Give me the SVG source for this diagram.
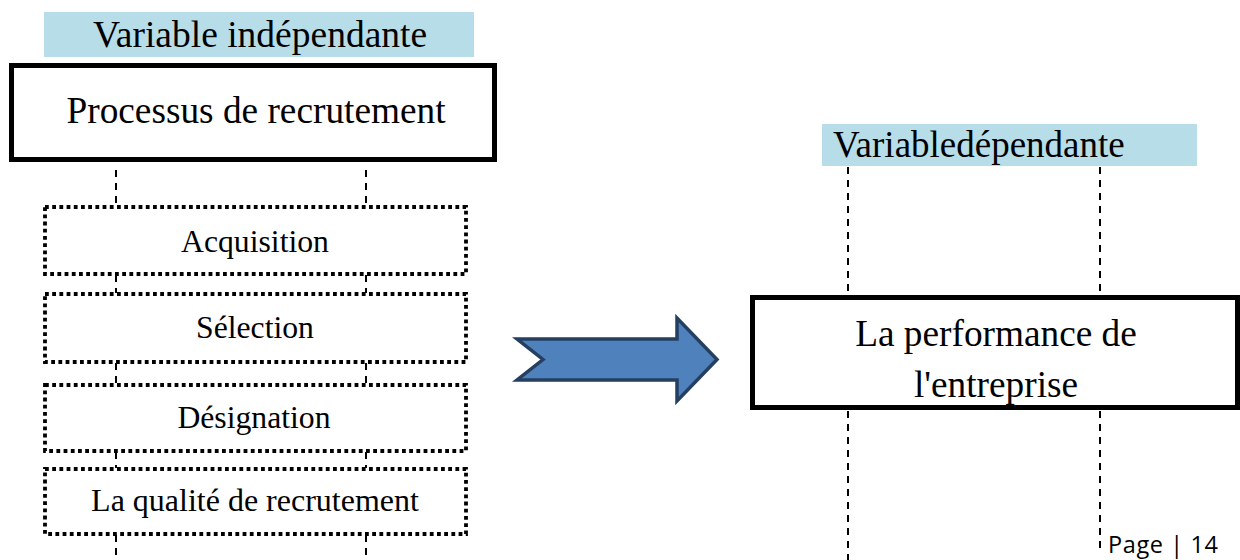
<svg xmlns="http://www.w3.org/2000/svg" width="1240" height="560" viewBox="0 0 1240 560">
<style>
.serif{font-family:"Liberation Serif","Times New Roman",serif;fill:#000;text-anchor:middle}
.lbl{fill:#B6DDE8}
.solid{fill:#fff;stroke:#000;stroke-width:5}
.dotted{fill:#fff;stroke:#000;stroke-width:3.8;stroke-dasharray:3.8 3.4}
.dash{stroke:#000;stroke-width:2;stroke-dasharray:7 6;fill:none}
</style>
<rect width="1240" height="560" fill="#fff"/>
<g id="connectors">
<path class="dash" d="M116 170V206M366 170V206M116 275V293M366 275V293M116 363V384M366 363V384M116 452V468M366 452V468M116 535V560M366 535V560"/>
<path class="dash" d="M848 167V295M1100 167V295M848 411V560M1100 411V553"/>
<path id="arrow" d="M517 339H677V318L717 359.5L677 401V380H517L543 359.5Z" fill="#4F81BD" stroke="#243F60" stroke-width="3.5" stroke-linejoin="miter"/>
</g>
<g id="label-independante">
<rect class="lbl" x="44" y="12" width="430" height="45"/>
<text class="serif" x="260" y="47" font-size="37.5">Variable indépendante</text>
</g>
<g id="node-processus">
<rect class="solid" x="11.5" y="65.5" width="483" height="94"/>
<text class="serif" x="256" y="123" font-size="37.3">Processus de recrutement</text>
</g>
<g id="node-acquisition">
<rect class="dotted" x="45" y="207" width="421" height="67"/>
<text class="serif" x="255" y="252" font-size="31.7">Acquisition</text>
</g>
<g id="node-selection">
<rect class="dotted" x="45" y="294" width="421" height="68"/>
<text class="serif" x="255" y="338" font-size="31.7">Sélection</text>
</g>
<g id="node-designation">
<rect class="dotted" x="45" y="385" width="421" height="66"/>
<text class="serif" x="254" y="428" font-size="31.7">Désignation</text>
</g>
<g id="node-qualite">
<rect class="dotted" x="45" y="469" width="421" height="65"/>
<text class="serif" x="255" y="511" font-size="32">La qualité de recrutement</text>
</g>
<g id="label-dependante">
<rect class="lbl" x="822" y="124" width="375" height="42"/>
<text class="serif" x="833" y="157" font-size="37" style="text-anchor:start">Variabledépendante</text>
</g>
<g id="node-performance">
<rect class="solid" x="752.5" y="297.5" width="485" height="110"/>
<text class="serif" x="996" y="346" font-size="37.3">La performance de</text>
<text class="serif" x="996" y="397" font-size="37.3">l'entreprise</text>
</g>
<g id="footer">
<text x="1108" y="553" font-family="'Open Sans','Noto Sans',sans-serif" font-size="23.5" textLength="110" lengthAdjust="spacing" fill="#000">Page | 14</text>
</g>
</svg>
